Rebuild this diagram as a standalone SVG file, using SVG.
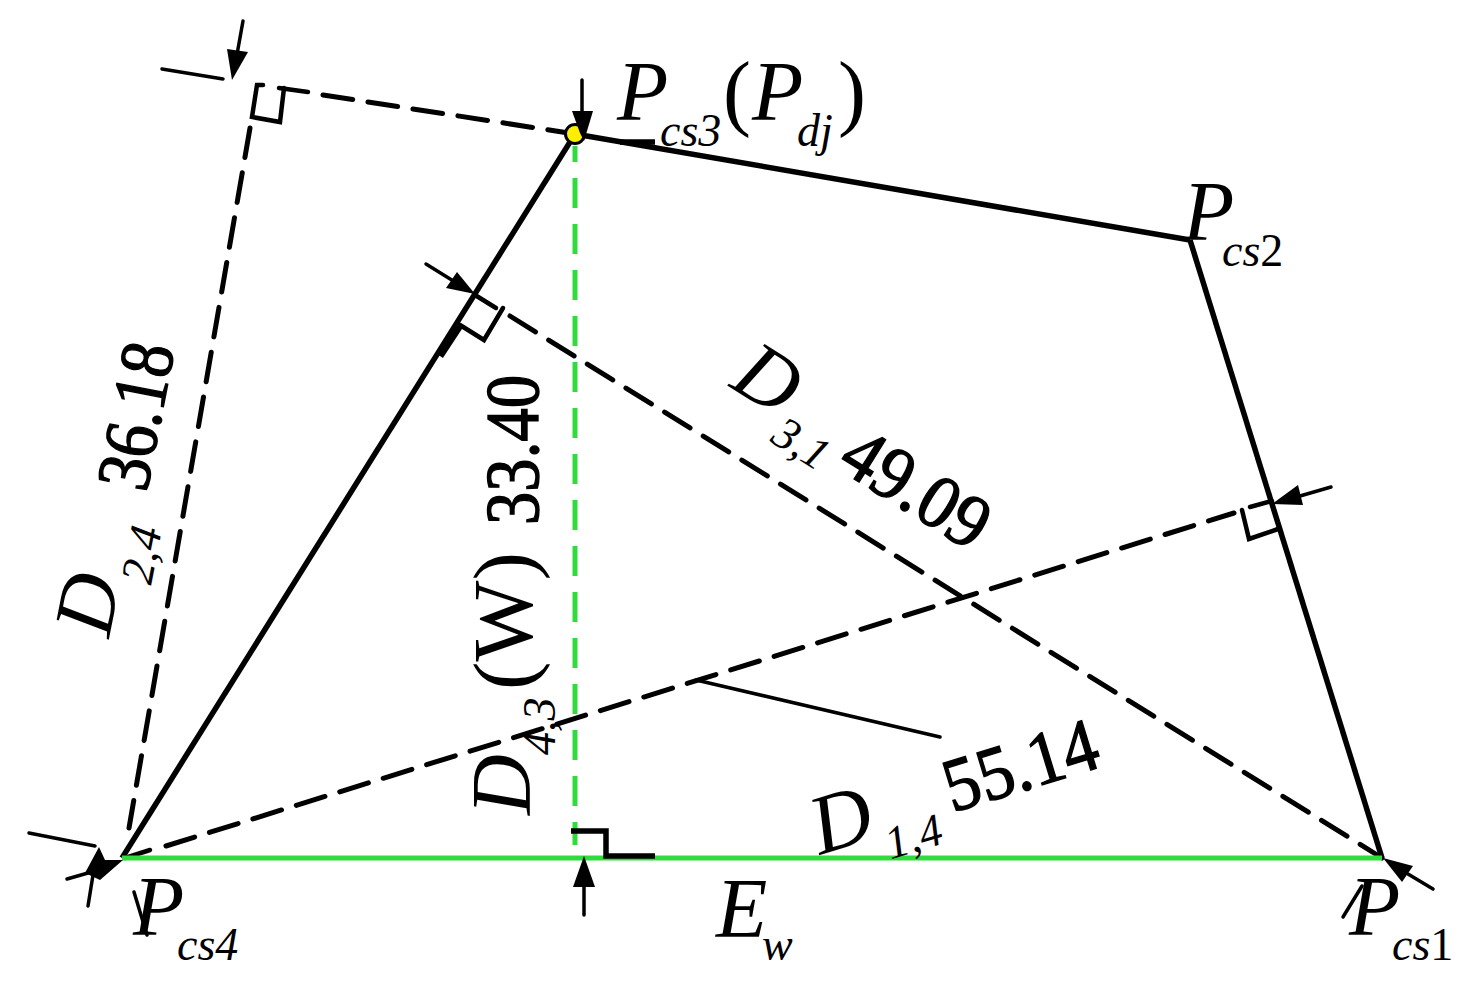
<svg xmlns="http://www.w3.org/2000/svg" width="1469" height="1002" viewBox="0 0 1469 1002">
<style>
text{font-family:"Liberation Serif","DejaVu Serif",serif;fill:#000}
.i{font-style:italic}
.b{font-size:84px}
.s{font-size:46px}
.n{font-size:76px;stroke:#000;stroke-width:1.4px}
.k{fill:none;stroke:#000;stroke-width:5.5px}
.t{fill:none;stroke:#000;stroke-width:3.5px;stroke-linecap:round}
.m{fill:none;stroke:#000;stroke-width:4.5px;stroke-linecap:round}
.d{fill:none;stroke:#000;stroke-width:5px;stroke-dasharray:30 15.5;stroke-linecap:round}
.g{stroke:#2fdc3c;fill:none;stroke-width:5px}
.h{fill:#000}
</style>
<g id="connectors">
<line class="d" x1="323" y1="95" x2="575" y2="134"/>
<line class="m" x1="279" y1="88" x2="308" y2="92"/>
<line class="d" x1="250" y1="128" x2="129" y2="828"/>
<line class="d" x1="510" y1="316" x2="1382" y2="858"/>
<line class="m" x1="475" y1="295" x2="496" y2="308"/>
<line class="d" x1="166" y1="846" x2="1234" y2="513"/>
<line class="m" x1="125" y1="858" x2="150" y2="850"/>
<line class="m" x1="1250" y1="507" x2="1272" y2="501"/>
<line class="k" x1="575" y1="134" x2="122" y2="858"/>
<line class="k" x1="575" y1="134" x2="1190" y2="240"/>
<line class="k" x1="1190" y1="240" x2="1382" y2="858"/>
<line class="g" x1="122" y1="858" x2="1382" y2="858"/>
<line class="g" stroke-dasharray="30 16" stroke-dashoffset="14" x1="575" y1="146" x2="575" y2="845"/>
<path class="k" d="M620 142H655"/>
<path class="k" d="M440 356L461 324" style="stroke-width:7px"/>
<path class="m" d="M263 85H257L252 117L280 122L284 88"/>
<path class="m" d="M460 325L484 340L503 308"/>
<path class="m" d="M1242 510L1249 539L1278 529"/>
<path class="k" d="M571 831H606V856H655"/>
<line class="t" x1="696" y1="680" x2="940" y2="737"/>
<line class="t" x1="162" y1="69" x2="223" y2="79"/>
<line class="t" x1="243" y1="21" x2="236" y2="60"/>
<polygon class="h" points="232,80 227,49 248,52"/>
<line class="t" x1="582" y1="80" x2="582" y2="112"/>
<line class="t" x1="426" y1="264" x2="455" y2="282"/>
<polygon class="h" points="475,294 457,272 446,288"/>
<line class="t" x1="1331" y1="487" x2="1300" y2="496"/>
<polygon class="h" points="1272,504 1298,485 1303,505"/>
<line class="t" x1="1433" y1="889" x2="1408" y2="874"/>
<polygon class="h" points="1383,858 1413,866 1402,882"/>
<line class="t" x1="1343" y1="917" x2="1362" y2="886"/>
<line class="t" x1="29" y1="833" x2="95" y2="846"/>
<line class="t" x1="67" y1="879" x2="88" y2="873"/>
<line class="t" x1="88" y1="906" x2="93" y2="875"/>
<polygon class="h" points="99,847 85,873 100,880 123,860 105,860"/>
<line class="t" x1="134" y1="892" x2="147" y2="935"/>
<line class="t" x1="584" y1="915" x2="584" y2="885"/>
<polygon class="h" points="584,856 573,887 595,887"/>
</g>
<g id="p-cs3">
<circle cx="575" cy="134" r="9.5" fill="#ffee00" stroke="#000" stroke-width="3"/>
<polygon class="h" points="572,111 593,111 584,141 580,133"/>
<text class="b i" x="617" y="120">P</text>
<text class="s i" x="660" y="146">cs3</text>
<text class="b" x="723" y="120">(</text>
<text class="b i" x="752" y="120">P</text>
<text class="s i" x="797" y="146">dj</text>
<text class="b" x="838" y="120">)</text>
</g>
<g id="p-cs2">
<text class="b i" x="1183" y="240">P</text>
<text class="s" x="1222" y="266"><tspan class="i">cs</tspan>2</text>
</g>
<g id="p-cs1">
<text class="b i" x="1349" y="935">P</text>
<text class="s" x="1392" y="960"><tspan class="i">cs</tspan>1</text>
</g>
<g id="p-cs4">
<text class="b i" x="133" y="935">P</text>
<text class="s i" x="177" y="960">cs4</text>
</g>
<g id="e-w">
<text class="b i" x="716" y="937">E</text>
<text class="s i" x="762" y="960">w</text>
</g>
<g id="d-24" transform="translate(115,640) rotate(-79)">
<text class="b i" x="0" y="-6">D</text>
<text class="s i" x="60" y="25">2,4</text>
<text class="n" x="150" y="3" textLength="148" lengthAdjust="spacingAndGlyphs">36.18</text>
</g>
<g id="d-43" transform="translate(530,815) rotate(-90)">
<text class="b i" x="0" y="0">D</text>
<text class="s i" x="60" y="25">4,3</text>
<text class="b" x="125" y="2" textLength="138" lengthAdjust="spacingAndGlyphs">(W)</text>
<text class="n" x="290" y="8" textLength="150" lengthAdjust="spacingAndGlyphs">33.40</text>
</g>
<g id="d-31" transform="translate(728,386) rotate(32)">
<text class="b i" x="0" y="0">D</text>
<text class="s i" x="64" y="25">3,1</text>
<text class="n" x="134" y="12" textLength="160" lengthAdjust="spacingAndGlyphs">49.09</text>
</g>
<g id="d-14" transform="translate(820,855) rotate(-17)">
<text class="b i" x="0" y="0">D</text>
<text class="s i" x="66" y="25">1,4</text>
<text class="n" x="139" y="-2" textLength="158" lengthAdjust="spacingAndGlyphs">55.14</text>
</g>
</svg>
